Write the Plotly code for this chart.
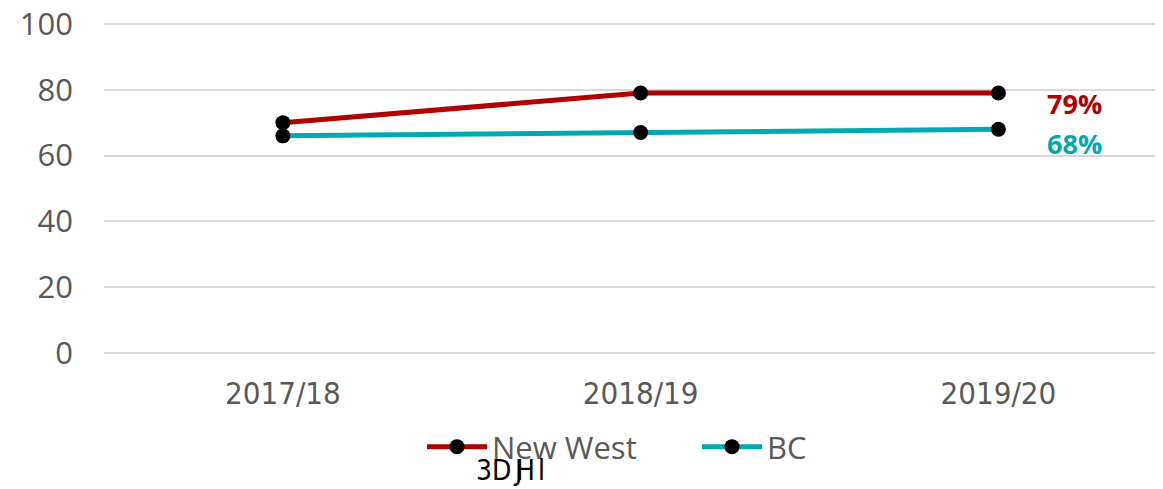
import plotly.graph_objects as go

years = ["2017/18", "2018/19", "2019/20"]
new_west = [70, 79, 79]
bc = [66, 67, 68]
y_ticks = [0, 20, 40, 60, 80, 100]

RED = "#B00000"
TEAL = "#00A9B2"
GRAY = "#595959"
NARROW = "DejaVu Sans Condensed, Liberation Sans Narrow, Liberation Sans"

# page body has an 8px margin: figure is laid out in its own coordinates
OFF = 8
W, H = 1163 - OFF, 489 - OFF
S = (353 - 24) / 100.0  # px per y unit
PAD = 1.5               # y-range padding so edge gridlines are drawn
L = 104 - OFF
T = 24 - OFF - PAD * S
B = H - (353 - OFF + PAD * S)
PW, PH = W - L, H - T - B

fig = go.Figure()
fig.add_trace(go.Scatter(x=years, y=new_west, name="New West", mode="lines+markers",
                         line=dict(color=RED, width=5),
                         marker=dict(color="black", size=15)))
fig.add_trace(go.Scatter(x=years, y=bc, name="BC", mode="lines+markers",
                         line=dict(color=TEAL, width=5),
                         marker=dict(color="black", size=15)))

fig.add_annotation(x=years[-1], y=new_west[-1], text=f"<b>{new_west[-1]}%</b>", showarrow=False,
                   xshift=76, yshift=-10, font=dict(color=RED, size=27, family="Open Sans"))
fig.add_annotation(x=years[-1], y=bc[-1], text=f"<b>{bc[-1]}%</b>", showarrow=False,
                   xshift=76, yshift=-14, font=dict(color=TEAL, size=27, family="Open Sans"))

# garbled footer text
bottom_page = 353 + PAD * S
for t, px in [("3D", 493), ("J", 517), ("H", 525), ("l", 541)]:
    fig.add_annotation(x=(px - OFF - L) / PW, y=(bottom_page - 472) / PH, xref="paper", yref="paper",
                       yshift=-17, text=t, showarrow=False,
                       font=dict(color="black", size=28, family=NARROW))

fig.update_layout(
    width=W, height=H,
    margin=dict(l=L, r=0, t=T, b=B, autoexpand=False),
    paper_bgcolor="white", plot_bgcolor="white",
    showlegend=True,
    legend=dict(orientation="h", x=(422 - OFF) / W, xanchor="left", xref="container",
                y=1 - (447 - OFF) / H, yref="container", yanchor="middle",
                font=dict(size=31, color=GRAY, family="Open Sans"),
                itemwidth=60, entrywidth=200, tracegroupgap=0),
    xaxis=dict(range=[-0.5, 2.46], showgrid=False, zeroline=False, showline=False,
               ticks="", ticklabelstandoff=int(round(19 - PAD * S)), automargin=False,
               tickfont=dict(size=31, color=GRAY, family=NARROW)),
    yaxis=dict(range=[-PAD, 100 + PAD], tickvals=y_ticks, showgrid=True, gridcolor="#D9D9D9",
               gridwidth=2, zeroline=False, showline=False,
               ticks="", ticklabelstandoff=30, automargin=False, ticklabeloverflow="allow",
               tickfont=dict(size=31, color=GRAY, family="Open Sans")),
)

fig.write_html("out.html")
